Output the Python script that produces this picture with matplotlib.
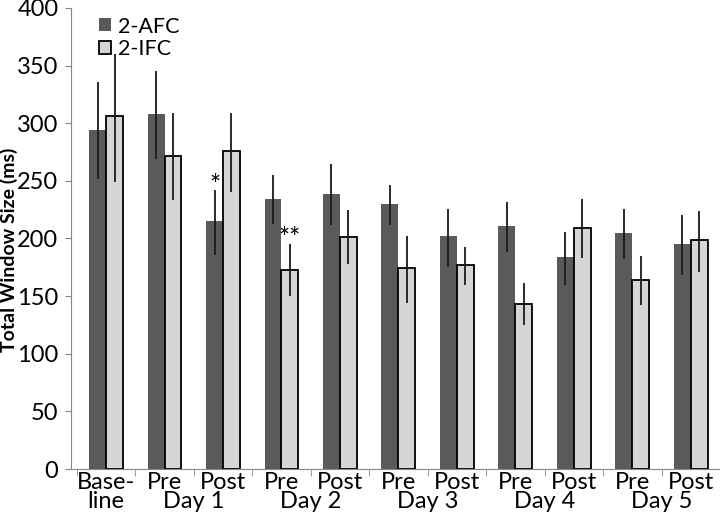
import matplotlib.pyplot as plt
import numpy as np
from matplotlib.transforms import blended_transform_factory

plt.rcParams['font.family'] = ['Lato', 'DejaVu Sans']

# dados
grupos = ["Base-\nline", "Pre", "Post", "Pre", "Post", "Pre", "Post", "Pre", "Post", "Pre", "Post"]
dias = ["Day 1", "Day 2", "Day 3", "Day 4", "Day 5"]

afc = [294, 308, 215, 234, 239, 230, 202, 211, 184, 205, 195]
afc_low = [252, 269, 186, 213, 212, 212, 175, 188, 160, 182, 168]
afc_high = [336, 345, 242, 255, 265, 246, 226, 232, 206, 226, 220]

ifc = [306, 272, 276, 173, 201, 174, 177, 143, 209, 164, 199]
ifc_low = [249, 233, 240, 150, 178, 144, 160, 125, 183, 142, 171]
ifc_high = [360, 309, 309, 195, 225, 202, 193, 161, 234, 185, 224]

x = np.arange(len(grupos))
w = 0.29

fig = plt.figure(figsize=(7.2, 5.14), dpi=100)
ax = fig.add_axes([0.0986, 0.0875, 0.9014, 0.897])

ax.bar(x - w / 2, afc, w, color='#5a5a5a', label='2-AFC', zorder=2)
ax.bar(x + w / 2, ifc, w, color='#d6d6d6', edgecolor='black', linewidth=1.3, label='2-IFC', zorder=2)

# barras de erro (linhas simples, sem cap)
ax.vlines(x - w / 2, afc_low, afc_high, color='#1a1a1a', linewidth=1.3, zorder=3)
ax.vlines(x + w / 2, ifc_low, ifc_high, color='#1a1a1a', linewidth=1.3, zorder=3)

# asteriscos
ax.text(2 - w / 2, 245, '*', ha='center', va='center', fontsize=19)
ax.text(3 + w / 2, 199, '**', ha='center', va='center', fontsize=19)

ax.set_ylim(0, 400)
ax.set_xlim(-0.6, 10.49)
ax.set_yticks(range(0, 401, 50))
ax.tick_params(axis='y', labelsize=17, length=4, color='#888888', pad=5)

ax.set_xticks(x)
ax.set_xticklabels(grupos, fontsize=17, va='top', linespacing=0.9)
ax.tick_params(axis='x', length=0, pad=2)
ax.set_xticks(np.arange(-0.5, 10.6, 1), minor=True)
ax.tick_params(axis='x', which='minor', length=5, color='#888888')

trans = blended_transform_factory(ax.transData, ax.transAxes)
for i, d in enumerate(dias):
    ax.text(1.5 + 2 * i, -0.071, d, transform=trans, ha='center', va='center', fontsize=17)

for s in ['top', 'right']:
    ax.spines[s].set_visible(False)
ax.spines['left'].set_color('#888888')
ax.spines['bottom'].set_color('#888888')

ax.set_ylabel('Total Window Size (ms)', fontsize=14, fontweight='bold')
ax.yaxis.set_label_coords(-0.082, 0.475)

ax.legend(loc='upper left', bbox_to_anchor=(0.03, 1.0), frameon=False, fontsize=15.5,
          handlelength=0.55, handleheight=0.55, handletextpad=0.35, labelspacing=0.1,
          borderaxespad=0)

fig.savefig('out.png', dpi=100)
